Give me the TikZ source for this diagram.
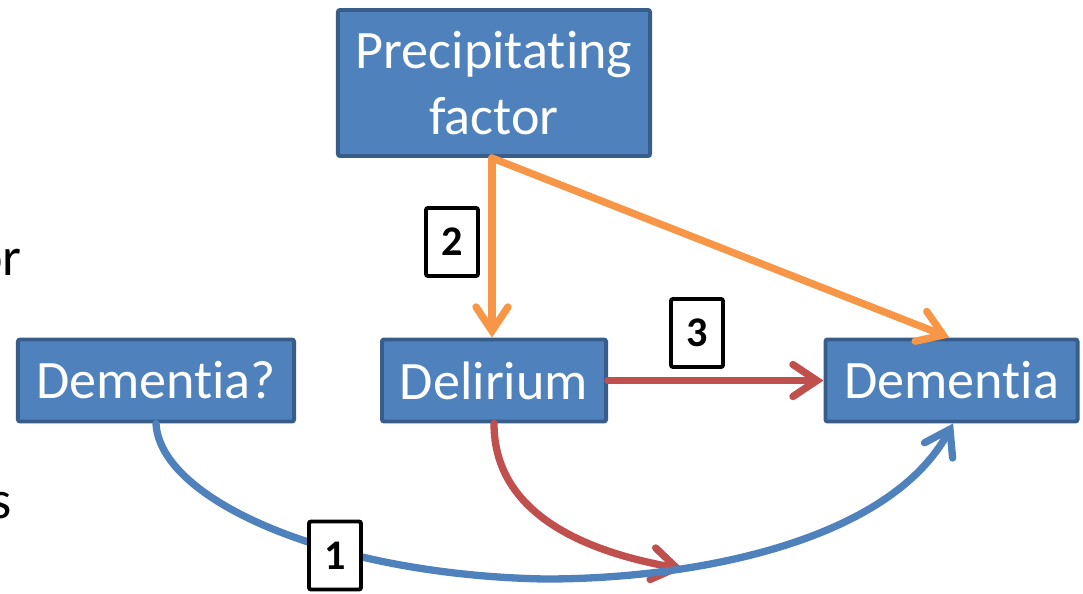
\documentclass[tikz,border=0pt]{standalone}
\usepackage{fontspec}
\setmainfont{Carlito}[Ligatures=NoCommon]
\usetikzlibrary{arrows.meta}
\definecolor{boxblue}{HTML}{4F81BD}
\definecolor{boxedge}{HTML}{385D8A}
\definecolor{arrorange}{HTML}{F79646}
\definecolor{arrred}{HTML}{C0504D}
\tikzset{
    factorbox/.style={draw=boxedge, fill=boxblue, line width=2.8pt, rounded corners=1.5pt,
        text=white, align=center, inner sep=0pt,
        font=\fontsize{38.5}{47}\selectfont},
    numbox/.style={draw=black, fill=white, line width=2.8pt, rounded corners=1.5pt,
        minimum width=1.3cm, minimum height=1.7cm, inner sep=0pt,
        font=\fontsize{30}{36}\selectfont\bfseries},
    link/.style={line width=5.2pt, line cap=round,
        -{Straight Barb[length=6mm,width=8mm,line cap=round]}},
}
\begin{document}
\begin{tikzpicture}[x=0.025cm, y=-0.025cm]
\useasboundingbox (0,0) rectangle (1083,593);
\node[factorbox, minimum width=7.8cm, minimum height=3.65cm] (prec) at (494,83) {Precipitating\\factor};
\node[factorbox, minimum width=6.9cm, minimum height=2.05cm] (demq) at (156,380.5) {Dementia?};
\node[factorbox, minimum width=5.6cm, minimum height=2.05cm] (delir) at (494,380.5) {Delirium};
\node[factorbox, minimum width=6.3cm, minimum height=2.05cm] (dem) at (951.5,380.5) {Dementia};

\node[anchor=base east, inner sep=0pt, font=\fontsize{38.5}{47}\selectfont] (lefta) at (22,275) {or};
\node[anchor=base east, inner sep=0pt, font=\fontsize{38.5}{47}\selectfont] (leftb) at (12,518) {s};

\coordinate (precfoot) at (492,158);
\coordinate (redtip) at (683,569);
\coordinate (bluelow) at (545,579);

% orange links from the precipitating factor
\draw[link, arrorange] (precfoot) -- (delir.north -| precfoot);
\draw[link, arrorange] (precfoot) -- ([xshift=-1.5pt]dem.north);

% red links from delirium
\draw[link, arrred] (delir.south) to[out=-90, in=170] (redtip);
\draw[link, arrred] (delir.east) -- (dem.west);

% blue link from dementia? to dementia
\draw[link, boxblue] (demq.south) .. controls (160,500) and (330,575) .. (bluelow)
    .. controls (700,579) and (890,540) .. ([xshift=0.04cm]dem.south);

\node[numbox] (n2) at (452,242) {2};
\node[numbox] (n3) at (697,333) {3};
\node[numbox] (n1) at (335,555.5) {1};
\end{tikzpicture}
\end{document}
